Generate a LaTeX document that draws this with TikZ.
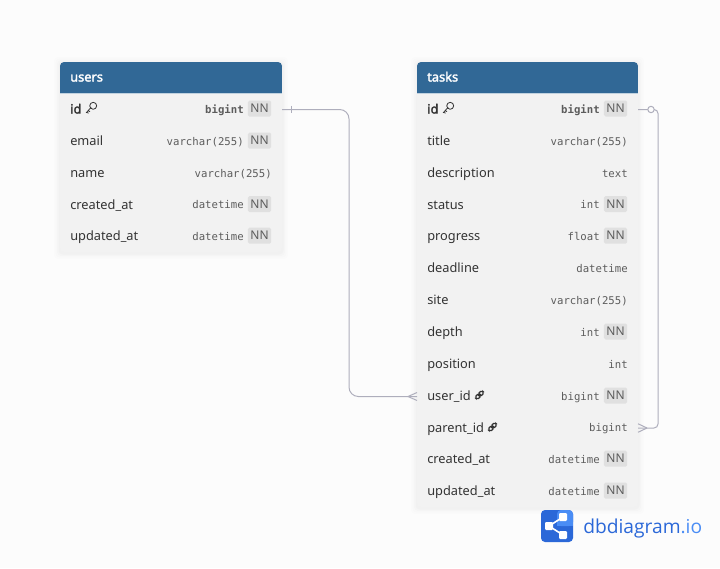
\documentclass[tikz,border=0pt]{standalone}
\usepackage{fontspec}
\setmainfont{Noto Sans}
\newfontfamily\boldf[FakeBold=2.2]{Noto Sans}
\newfontfamily\monof{DejaVu Sans Mono}
\newfontfamily\logof{Open Sans}
\definecolor{bg}{HTML}{FCFCFC}
\definecolor{head}{HTML}{316896}
\definecolor{body}{HTML}{F2F2F2}
\definecolor{badge}{HTML}{E0E0E0}
\definecolor{txt}{HTML}{333333}
\definecolor{typ}{HTML}{5C5C5C}
\definecolor{conn}{HTML}{AEAEBC}
\definecolor{logoa}{HTML}{2B68D8}
\definecolor{logob}{HTML}{4A8DF5}
\tikzset{
  x=0.75pt,y=-0.75pt,
  rowbox/.style={minimum width=#1*0.75pt,minimum height=23.9pt,inner sep=0pt,outer sep=0pt},
  namelbl/.style={anchor=west,inner sep=0pt,text height=7.5pt,text depth=0pt,font=\fontsize{9.6}{11}\selectfont,text=txt},
  typelbl/.style={anchor=east,inner sep=0pt,text height=7.2pt,text depth=0pt,font=\monof\fontsize{8}{10}\selectfont,text=typ},
  nnbadge/.style={anchor=east,inner sep=0pt,minimum width=17.5pt,minimum height=12pt,text height=6.4pt,text depth=0pt,fill=badge,rounded corners=1.2pt,font=\fontsize{9}{10}\selectfont,text=typ},
  titlelbl/.style={anchor=west,inner sep=0pt,text height=7.5pt,text depth=0pt,font=\boldf\fontsize{9.6}{11}\selectfont,text=white},
  link/.style={draw=conn,line width=0.75pt,rounded corners=7pt},
  tick/.style={draw=conn,line width=0.75pt},
  iconline/.style={draw=txt,line width=0.6pt,line cap=round},
  chain/.style={draw=txt,line width=0.95pt,rounded corners=1.4pt},
}
\newcommand{\dbrow}[7]{%
  \node[rowbox=#4,anchor=west] (#1) at (#3,#2) {};
  \node[namelbl] (#1n) at (#3+10,#2) {#5};
  \ifnum#7=1
    \node[nnbadge] (#1b) at (#3+#4-10.5,#2) {NN};
    \node[typelbl] (#1t) at (#3+#4-38,#2) {#6};
  \else
    \node[typelbl] (#1t) at (#3+#4-10,#2) {#6};
  \fi
}
\newcommand{\dbtable}[5]{%
  \foreach \k/\o in {6/0.006,4.5/0.008,3/0.011,1.5/0.015}{
    \fill[black,opacity=\o,rounded corners=3pt] (#2-\k,#3-\k+1) rectangle (#2+#4+\k,#3+#5+\k+1);
  }
  \fill[body,rounded corners=3pt] (#2,#3) rectangle (#2+#4,#3+#5);
  \fill[head,rounded corners=3pt] (#2,#3) rectangle (#2+#4,#3+8);
  \fill[head] (#2,#3+4) rectangle (#2+#4,#3+31);
  \draw[white!70!head,line width=0.6pt] (#2,#3+31.4) -- (#2+#4,#3+31.4);
}
\newcommand{\keyicon}[2]{%
  \begin{scope}[shift={(#1,#2)}]
    \draw[iconline] (2.2,-2.2) circle[radius=2.6pt];
    \draw[iconline] (0,-0.6) -- (-4.5,4.5) -- (-2.6,5) (-2.8,2.6) -- (-1.2,3.6);
  \end{scope}}
\newcommand{\linkicon}[2]{%
  \begin{scope}[shift={(#1,#2)},rotate=45]
    \draw[chain] (-5,-1.8) rectangle (0.8,1.8);
    \draw[chain] (-0.8,-1.8) rectangle (5,1.8);
  \end{scope}}
\begin{document}
\begin{tikzpicture}
\useasboundingbox (0,0) rectangle (720,568);
\fill[bg] (0,0) rectangle (720,568);

\dbtable{users}{60}{62}{222}{190}
\dbtable{tasks}{417}{62}{221}{445}

\node[titlelbl] (utitle) at (70,76.5) {users};
\node[titlelbl] (ttitle) at (427,76.5) {tasks};

\dbrow{ua}{108.5}{60}{222}{{\boldf id}}{\textbf{bigint}}{1}
\dbrow{ub}{140.5}{60}{222}{email}{varchar(255)}{1}
\dbrow{uc}{172.5}{60}{222}{name}{varchar(255)}{0}
\dbrow{ud}{204}{60}{222}{created\_at}{datetime}{1}
\dbrow{ue}{235.7}{60}{222}{updated\_at}{datetime}{1}
\keyicon{91}{108}

\dbrow{ta}{108.5}{417}{221}{{\boldf id}}{\textbf{bigint}}{1}
\dbrow{tb}{140.5}{417}{221}{title}{varchar(255)}{0}
\dbrow{tc}{172.5}{417}{221}{description}{text}{0}
\dbrow{td}{204}{417}{221}{status}{int}{1}
\dbrow{te}{235.7}{417}{221}{progress}{float}{1}
\dbrow{tf}{267.5}{417}{221}{deadline}{datetime}{0}
\dbrow{tg}{299.5}{417}{221}{site}{varchar(255)}{0}
\dbrow{th}{331.5}{417}{221}{depth}{int}{1}
\dbrow{ti}{363.5}{417}{221}{position}{int}{0}
\dbrow{tj}{395.5}{417}{221}{user\_id}{bigint}{1}
\dbrow{tk}{427}{417}{221}{parent\_id}{bigint}{0}
\dbrow{tl}{458.7}{417}{221}{created\_at}{datetime}{1}
\dbrow{tm}{490.5}{417}{221}{updated\_at}{datetime}{1}
\keyicon{448}{108}
\linkicon{479.5}{395}
\linkicon{492.5}{427}

\coordinate (uaP) at ([yshift=-0.75pt]ua.east);
\coordinate (tjP) at ([yshift=-0.75pt]tj.west);
\coordinate (taP) at ([yshift=-0.75pt]ta.east);
\coordinate (tkP) at ([yshift=-0.75pt]tk.east);

\coordinate (mid) at (349,250);
\draw[link] (uaP) -- (mid |- uaP) -- (mid |- tjP) -- (tjP);
\coordinate (bar) at (291,109.5);
\draw[tick] ([yshift=2.75pt]bar) -- ([yshift=-2.75pt]bar);
\coordinate (cf) at (408,396.5);
\draw[tick] (cf) -- ([yshift=3pt]tjP);
\draw[tick] (cf) -- ([yshift=-3pt]tjP);

\coordinate (smid) at (658,250);
\draw[link,rounded corners=3pt] (taP) -- (smid |- taP) -- (smid |- tkP) -- (tkP);
\coordinate (circ) at (651,109.5);
\draw[tick,fill=bg] (circ) circle[radius=2.4pt];
\coordinate (sf) at (647,428);
\draw[tick] (sf) -- ([yshift=3.2pt]tkP);
\draw[tick] (sf) -- ([yshift=-3.2pt]tkP);

% logo
\fill[logoa,rounded corners=3pt] (541,510) rectangle (573,542);
\fill[logob,rounded corners=3pt] (557,510) rectangle (573,526);
\fill[logob] (557,514) rectangle (561,526);
\fill[logob] (561,522) rectangle (573,526);
\draw[white,line width=1.2pt] (549,526) -- (563,517) (549,526) -- (563,535);
\fill[white,rounded corners=0.8pt] (545,522) rectangle (553,530);
\fill[white,rounded corners=0.8pt] (559,513) rectangle (567,521);
\fill[white,rounded corners=0.8pt] (559,531) rectangle (567,539);
\node[anchor=base west,inner sep=0pt,text=logoa,font=\logof\fontsize{14.4}{18}\selectfont] (brand) at (583,533) {dbdiagram\textcolor{logob}{.io}};
\end{tikzpicture}
\end{document}
